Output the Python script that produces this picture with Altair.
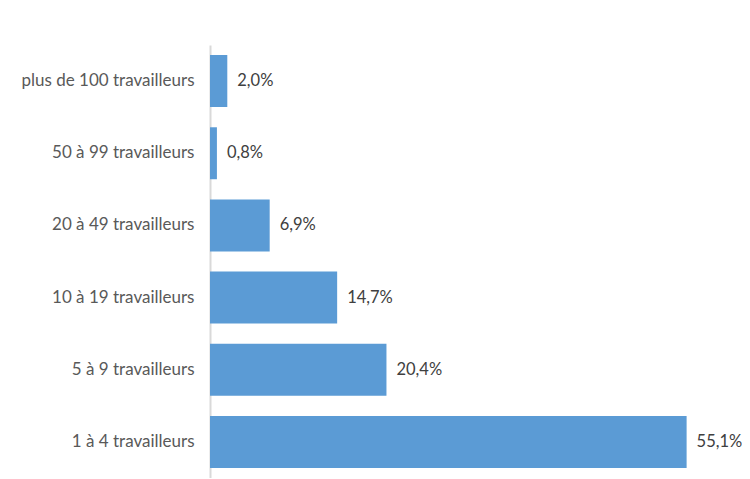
import altair as alt
import pandas as pd

categories = ["plus de 100 travailleurs", "50 à 99 travailleurs", "20 à 49 travailleurs",
              "10 à 19 travailleurs", "5 à 9 travailleurs", "1 à 4 travailleurs"]
values = [2.0, 0.8, 6.9, 14.7, 20.4, 55.1]

df = pd.DataFrame({"cat": categories, "val": values})
df["label"] = [f"{v:.1f}".replace(".", ",") + "%" for v in values]

FONT = "Lato"
x = alt.X("val:Q", scale=alt.Scale(domain=[0, 60], nice=False), axis=None)
y = alt.Y("cat:N", sort=categories,
          scale=alt.Scale(paddingInner=0.28, paddingOuter=0.14),
          axis=alt.Axis(title=None, ticks=False, domainColor="#D9D9D9", domainWidth=2,
                        labelFont=FONT, labelFontSize=17, labelColor="#595959",
                        labelPadding=16, labelLimit=300))

bars = alt.Chart(df).mark_bar(color="#5B9BD5").encode(x=x, y=y)
text = alt.Chart(df).mark_text(align="left", dx=10, font=FONT, fontSize=16.5,
                               color="#404040").encode(x=x, y=y, text="label:N")

chart = (bars + text).properties(
    width=519, height=433,
    autosize=alt.AutoSizeParams(type="none"),
    padding={"left": 202, "top": 37, "right": 13, "bottom": 0},
).configure_view(stroke=None)

chart.save("out.html", embed_options={"renderer": "svg", "actions": False})
